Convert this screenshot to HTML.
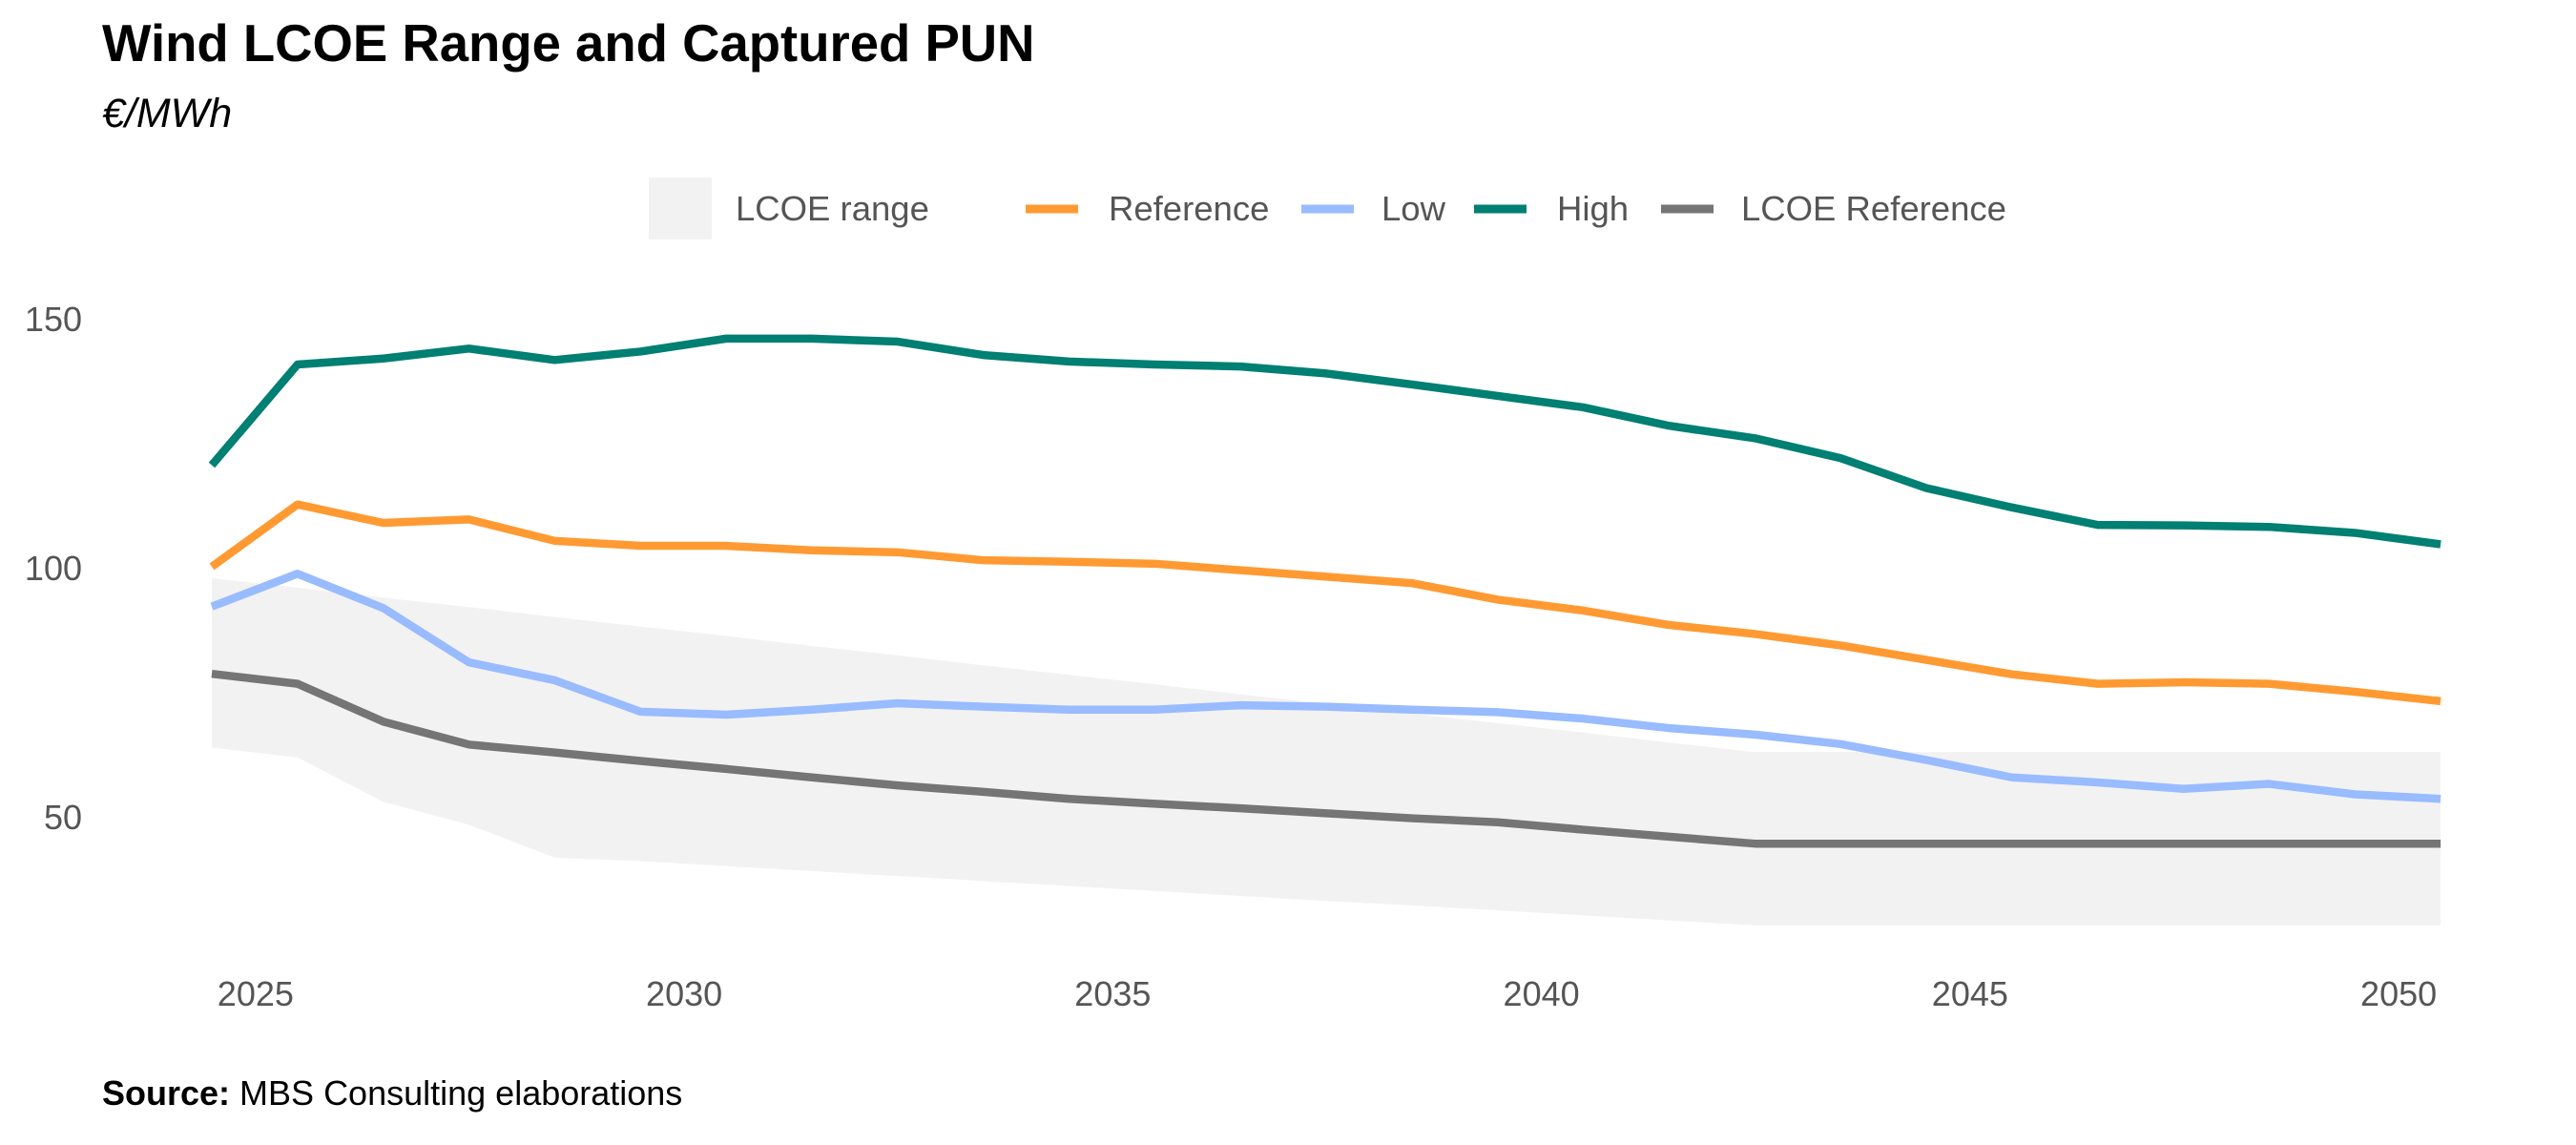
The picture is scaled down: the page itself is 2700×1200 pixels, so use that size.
<!DOCTYPE html>
<html><head><meta charset="utf-8"><style>
body{margin:0;background:#fff;}
svg{display:block;font-family:"Liberation Sans",sans-serif;}
</style></head><body>
<svg id="chart" width="2700" height="1200" viewBox="0 0 2700 1200">
<text x="107" y="64" font-size="54.5" font-weight="bold" fill="#000">Wind LCOE Range and Captured PUN</text>
<text x="107" y="133" font-size="43" font-style="italic" fill="#000">€/MWh</text>
<g>
<rect x="680" y="186" width="66" height="65" fill="#f2f2f2"/>
<text x="771" y="231" font-size="36.5" fill="#555">LCOE range</text>
<line x1="1075" y1="219" x2="1130" y2="219" stroke="#ff9a33" stroke-width="9"/>
<text x="1162" y="231" font-size="36.5" fill="#555">Reference</text>
<line x1="1364" y1="219" x2="1419" y2="219" stroke="#99bbff" stroke-width="9"/>
<text x="1448" y="231" font-size="36.5" fill="#555">Low</text>
<line x1="1545" y1="219" x2="1600" y2="219" stroke="#007f73" stroke-width="9"/>
<text x="1632" y="231" font-size="36.5" fill="#555">High</text>
<line x1="1741" y1="219" x2="1796" y2="219" stroke="#757575" stroke-width="9"/>
<text x="1825" y="231" font-size="36.5" fill="#555">LCOE Reference</text>
</g>
<g id="plot"></g>
<text x="107" y="1158" font-size="36" fill="#000"><tspan font-weight="bold">Source:</tspan> MBS Consulting elaborations</text>
</svg>
<script>
const years = [2024,2025,2026,2027,2028,2029,2030,2031,2032,2033,2034,2035,2036,2037,2038,2039,2040,2041,2042,2043,2044,2045,2046,2047,2048,2049,2050];
const high = [120.6,140.8,142,144,141.7,143.4,146,146,145.4,142.7,141.4,140.8,140.4,139,136.8,134.5,132.2,128.5,126,122,116.0,112.1,108.6,108.5,108.2,107.0,104.7];
const reference = [100.2,112.7,109,109.7,105.4,104.4,104.4,103.5,103.1,101.5,101.2,100.8,99.5,98.2,96.9,93.6,91.4,88.5,86.7,84.4,81.5,78.6,76.7,77.0,76.7,75.1,73.2];
const low = [92.2,98.8,91.9,81,77.4,71.1,70.5,71.5,72.8,72.1,71.5,71.5,72.4,72.1,71.5,71.0,69.7,67.8,66.5,64.6,61.4,57.9,56.9,55.6,56.6,54.5,53.6];
const lcoeRef = [78.7,76.7,69.1,64.5,62.9,61.2,59.6,57.9,56.3,55,53.6,52.6,51.7,50.7,49.7,48.9,47.4,46.0,44.6,44.6,44.6,44.6,44.6,44.6,44.6,44.6,44.6];
const bandUpper = [97.9,96.0,94.0,92.1,90.1,88.2,86.3,84.3,82.4,80.4,78.5,76.6,74.6,72.7,70.7,68.8,66.9,64.9,63.0,63.0,63.0,63.0,63.0,63.0,63.0,63.0,63.0];
const bandLower = [63.9,61.9,53,48.4,41.8,41.1,40.1,39.1,38.1,37.1,36.1,35.1,34.1,33.1,32.2,31.2,30.2,29.2,28.2,28.2,28.2,28.2,28.2,28.2,28.2,28.2,28.2];
const yTicks = [50,100,150];
const xTicks = [2025,2030,2035,2040,2045,2050];

const NS = 'http://www.w3.org/2000/svg';
const plot = document.getElementById('plot');
function x(yr){ return 222 + (yr - 2024) * 89.85; }
function y(v){ return 334 + (150 - v) * 5.22; }
function mk(tag, attrs){ const e = document.createElementNS(NS, tag); for (const k in attrs) e.setAttribute(k, attrs[k]); return e; }

let d = '';
years.forEach((yr,i)=>{ d += (i?'L':'M') + x(yr) + ',' + y(bandUpper[i]); });
for (let i = years.length-1; i >= 0; i--) d += 'L' + x(years[i]) + ',' + y(bandLower[i]);
const band = mk('path', {d: d + 'Z', fill: '#f2f2f2'});


plot.appendChild(band);

const series = [
  {vals: lcoeRef, color: '#757575', name: 'line-lcoe-reference'},
  {vals: low, color: '#99bbff', name: 'line-low'},
  {vals: reference, color: '#ff9a33', name: 'line-reference'},
  {vals: high, color: '#007f73', name: 'line-high'}
];
series.forEach(s=>{
  const pts = years.map((yr,i)=> x(yr) + ',' + y(s.vals[i])).join(' ');
  const pl = mk('polyline', {points: pts, fill: 'none', stroke: s.color, 'stroke-width': 8.5, 'stroke-linejoin': 'round'});
  
  
  plot.appendChild(pl);
});

yTicks.forEach(t=>{
  const tx = mk('text', {x: 86, y: y(t) + 13, 'font-size': 36, fill: '#555', 'text-anchor': 'end'});
  tx.textContent = t;
  
  
  plot.appendChild(tx);
});
xTicks.forEach(t=>{
  const tx = mk('text', {x: x(t) - 44, y: 1054, 'font-size': 36, fill: '#555', 'text-anchor': 'middle'});
  tx.textContent = t;
  
  
  plot.appendChild(tx);
});
</script>
</body></html>
